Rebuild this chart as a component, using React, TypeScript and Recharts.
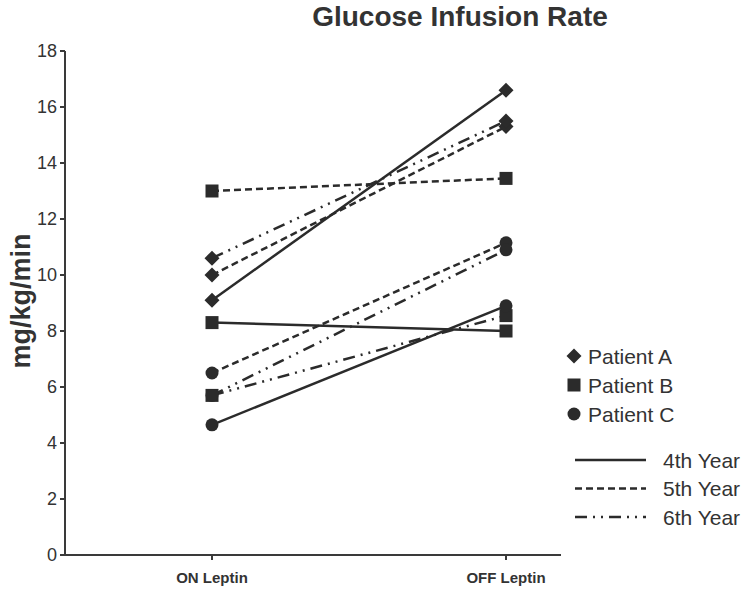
import React from "react";
import { LineChart, Line, XAxis, YAxis } from "recharts";

const categories = ["ON Leptin", "OFF Leptin"];
const yTicks = [0, 2, 4, 6, 8, 10, 12, 14, 16, 18];

const patientA4 = [9.1, 16.6];
const patientA5 = [10.0, 15.3];
const patientA6 = [10.6, 15.5];
const patientB4 = [8.3, 8.0];
const patientB5 = [13.0, 13.45];
const patientB6 = [5.7, 8.55];
const patientC4 = [4.65, 8.9];
const patientC5 = [6.5, 11.15];
const patientC6 = [5.7, 10.9];

const patients = ["Patient A", "Patient B", "Patient C"];
const years = ["4th Year", "5th Year", "6th Year"];

const series = [
  { key: "A4", values: patientA4, patient: 0, year: 0 },
  { key: "A5", values: patientA5, patient: 0, year: 1 },
  { key: "A6", values: patientA6, patient: 0, year: 2 },
  { key: "B4", values: patientB4, patient: 1, year: 0 },
  { key: "B5", values: patientB5, patient: 1, year: 1 },
  { key: "B6", values: patientB6, patient: 1, year: 2 },
  { key: "C4", values: patientC4, patient: 2, year: 0 },
  { key: "C5", values: patientC5, patient: 2, year: 1 },
  { key: "C6", values: patientC6, patient: 2, year: 2 },
];

const rows = categories.map((c, i) => {
  const r: any = { x: i, name: c };
  series.forEach((s) => (r[s.key] = s.values[i]));
  return r;
});

const INK = "#2b2b2b";
const TEXT = "#333333";
const dashes = [undefined, "7 4", "12 6 2 6 2 6"];
const FONT = "'Liberation Sans', Arial, sans-serif";

function Marker({ cx, cy, kind }: { cx: number; cy: number; kind: number }) {
  if (cx == null || cy == null) return null;
  if (kind === 0) {
    const h = 7.5;
    return (
      <polygon
        points={`${cx},${cy - h} ${cx + h},${cy} ${cx},${cy + h} ${cx - h},${cy}`}
        fill={INK}
      />
    );
  }
  if (kind === 1) {
    const h = 6.5;
    return <rect x={cx - h} y={cy - h} width={2 * h} height={2 * h} fill={INK} />;
  }
  return <circle cx={cx} cy={cy} r={6.5} fill={INK} />;
}

export default function App() {
  return (
    <div style={{ position: "absolute", left: 0, top: 0, width: 746, height: 589 }}>
      <LineChart
        width={746}
        height={589}
        data={rows}
        margin={{ top: 51, right: 185, bottom: 4, left: 25 }}
      >
        <XAxis
          dataKey="x"
          type="number"
          domain={[-0.5, 1.187]}
          ticks={[0, 1]}
          tickFormatter={(v: number) => categories[v] ?? ""}
          allowDataOverflow
          height={30}
          tickSize={5}
          tickMargin={12}
          stroke="#3a3a3a"
          strokeWidth={2}
          tick={{ fill: TEXT, fontSize: 15, fontWeight: "bold", fontFamily: FONT }}
        />
        <YAxis
          type="number"
          domain={[0, 18]}
          ticks={yTicks}
          width={40}
          tickSize={5}
          tickMargin={3}
          interval={0}
          stroke="#3a3a3a"
          strokeWidth={2}
          tick={{ fill: TEXT, fontSize: 18, fontFamily: FONT }}
        />
        {series.map((s) => (
          <Line
            key={s.key}
            dataKey={s.key}
            type="linear"
            stroke={INK}
            strokeWidth={2.5}
            strokeDasharray={dashes[s.year]}
            isAnimationActive={false}
            dot={(p: any) => <Marker key={`${s.key}-${p.index}`} cx={p.cx} cy={p.cy} kind={s.patient} />}
            activeDot={false}
          />
        ))}
      </LineChart>
      <svg
        width={746}
        height={589}
        style={{ position: "absolute", left: 0, top: 0, pointerEvents: "none" }}
      >
        <text
          x={460}
          y={26}
          textAnchor="middle"
          fontFamily={FONT}
          fontWeight="bold"
          fontSize={28}
          fill={TEXT}
        >
          Glucose Infusion Rate
        </text>
        <text
          x={30}
          y={301}
          textAnchor="middle"
          transform="rotate(-90 30 301)"
          fontFamily={FONT}
          fontWeight="bold"
          fontSize={27}
          fill={TEXT}
        >
          mg/kg/min
        </text>
        {patients.map((p, i) => {
          const y = 356 + i * 29;
          return (
            <g key={p}>
              <Marker cx={574} cy={y} kind={i} />
              <text x={588} y={y + 7.5} fontFamily={FONT} fontSize={21} fill={TEXT}>
                {p}
              </text>
            </g>
          );
        })}
        {years.map((yr, i) => {
          const y = 460 + i * 28.5;
          return (
            <g key={yr}>
              <line
                x1={575}
                x2={646}
                y1={y}
                y2={y}
                stroke={INK}
                strokeWidth={2.5}
                strokeDasharray={dashes[i]}
              />
              <text x={663} y={y + 7.5} fontFamily={FONT} fontSize={21} fill={TEXT}>
                {yr}
              </text>
            </g>
          );
        })}
      </svg>
    </div>
  );
}
